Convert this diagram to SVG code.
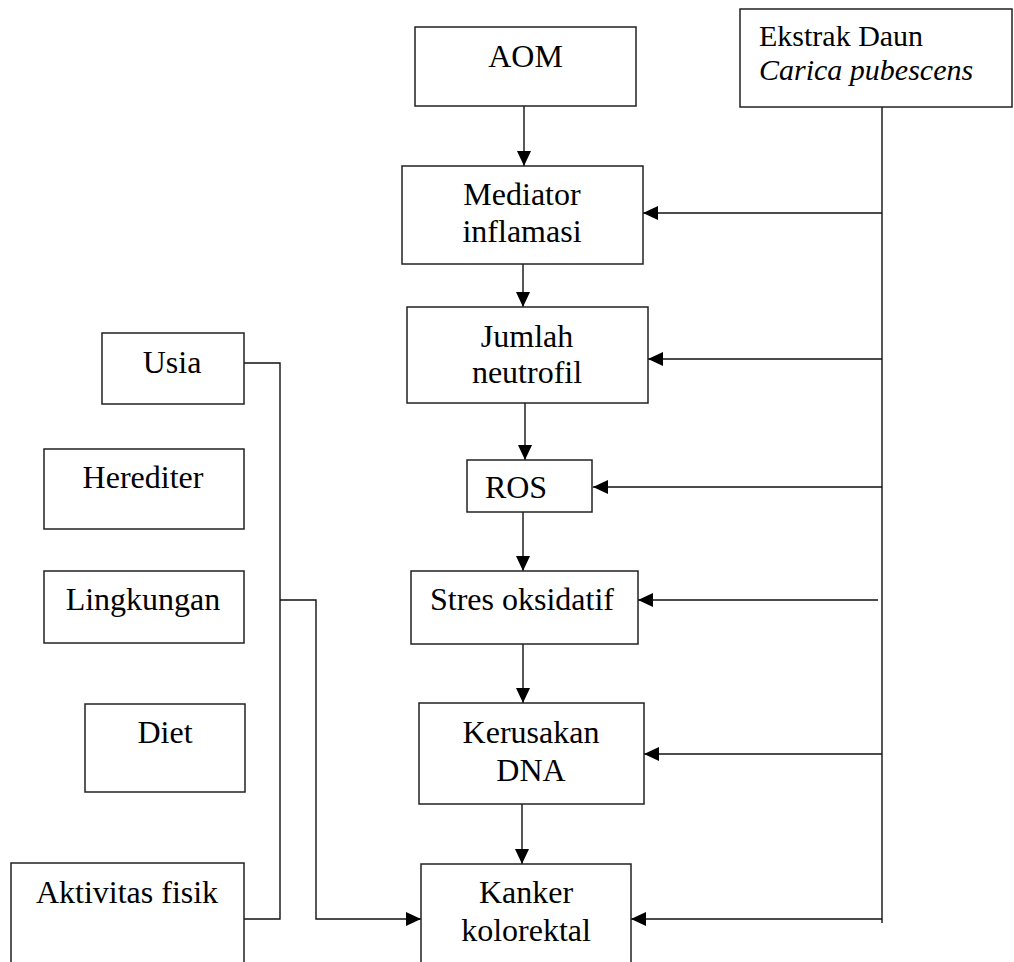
<svg xmlns="http://www.w3.org/2000/svg" width="1014" height="962" viewBox="0 0 1014 962">
<style>
.box{fill:#fff;stroke:#222;stroke-width:1.5}
.t{font-family:"Liberation Serif","Times New Roman",serif;font-size:32px;fill:#000;text-anchor:middle}
.ts{font-family:"Liberation Serif","Times New Roman",serif;font-size:30px;fill:#000}
.c{fill:none;stroke:#111;stroke-width:1.4}
</style>
<defs>
<marker id="ah" markerUnits="userSpaceOnUse" markerWidth="15" markerHeight="14" refX="15" refY="7" orient="auto">
<path d="M0,0 L15,7 L0,14 z" fill="#000"/>
</marker>
</defs>
<rect width="1014" height="962" fill="#fff"/>
<g id="connectors">
<path class="c" d="M524,106 V166" marker-end="url(#ah)"/>
<path class="c" d="M523,264 V307" marker-end="url(#ah)"/>
<path class="c" d="M525,403 V460" marker-end="url(#ah)"/>
<path class="c" d="M523,512 V571" marker-end="url(#ah)"/>
<path class="c" d="M523,644 V703" marker-end="url(#ah)"/>
<path class="c" d="M522,804 V864" marker-end="url(#ah)"/>
<path class="c" d="M882,107 V923"/>
<path class="c" d="M882,213 H643" marker-end="url(#ah)"/>
<path class="c" d="M882,359 H648" marker-end="url(#ah)"/>
<path class="c" d="M882,487 H593" marker-end="url(#ah)"/>
<path class="c" d="M878,600 H638" marker-end="url(#ah)"/>
<path class="c" d="M882,754 H644" marker-end="url(#ah)"/>
<path class="c" d="M882,919 H631" marker-end="url(#ah)"/>
<path class="c" d="M244,363 H280 V919 H244"/>
<path class="c" d="M280,600 H316 V919 H421" marker-end="url(#ah)"/>
</g>
<g id="aom"><rect class="box" x="415" y="27" width="221" height="79"/><text class="t" x="525.5" y="67">AOM</text></g>
<g id="ekstrak"><rect class="box" x="740" y="9" width="272" height="98"/><text class="ts" x="759" y="46">Ekstrak Daun</text><text class="ts" x="759" y="80" font-style="italic">Carica pubescens</text></g>
<g id="mediator"><rect class="box" x="402" y="166" width="241" height="98"/><text class="t" x="522" y="205">Mediator</text><text class="t" x="522" y="242">inflamasi</text></g>
<g id="jumlah"><rect class="box" x="407" y="307" width="241" height="96"/><text class="t" x="527" y="347">Jumlah</text><text class="t" x="527" y="383">neutrofil</text></g>
<g id="ros"><rect class="box" x="467" y="460" width="125" height="52"/><text class="t" x="516" y="498">ROS</text></g>
<g id="stres"><rect class="box" x="411" y="571" width="227" height="73"/><text class="t" x="522" y="610">Stres oksidatif</text></g>
<g id="kerusakan"><rect class="box" x="419" y="703" width="225" height="101"/><text class="t" x="531" y="743">Kerusakan</text><text class="t" x="531" y="781">DNA</text></g>
<g id="kanker"><rect class="box" x="421" y="864" width="210" height="110"/><text class="t" x="526" y="903">Kanker</text><text class="t" x="526" y="941">kolorektal</text></g>
<g id="usia"><rect class="box" x="102" y="333" width="142" height="71"/><text class="t" x="172" y="373">Usia</text></g>
<g id="herediter"><rect class="box" x="44" y="449" width="200" height="80"/><text class="t" x="143" y="488">Herediter</text></g>
<g id="lingkungan"><rect class="box" x="44" y="571" width="200" height="72"/><text class="t" x="143" y="610">Lingkungan</text></g>
<g id="diet"><rect class="box" x="85" y="704" width="160" height="88"/><text class="t" x="165" y="743">Diet</text></g>
<g id="aktivitas"><rect class="box" x="11" y="863" width="233" height="110"/><text class="t" x="127" y="903">Aktivitas fisik</text></g>
</svg>
